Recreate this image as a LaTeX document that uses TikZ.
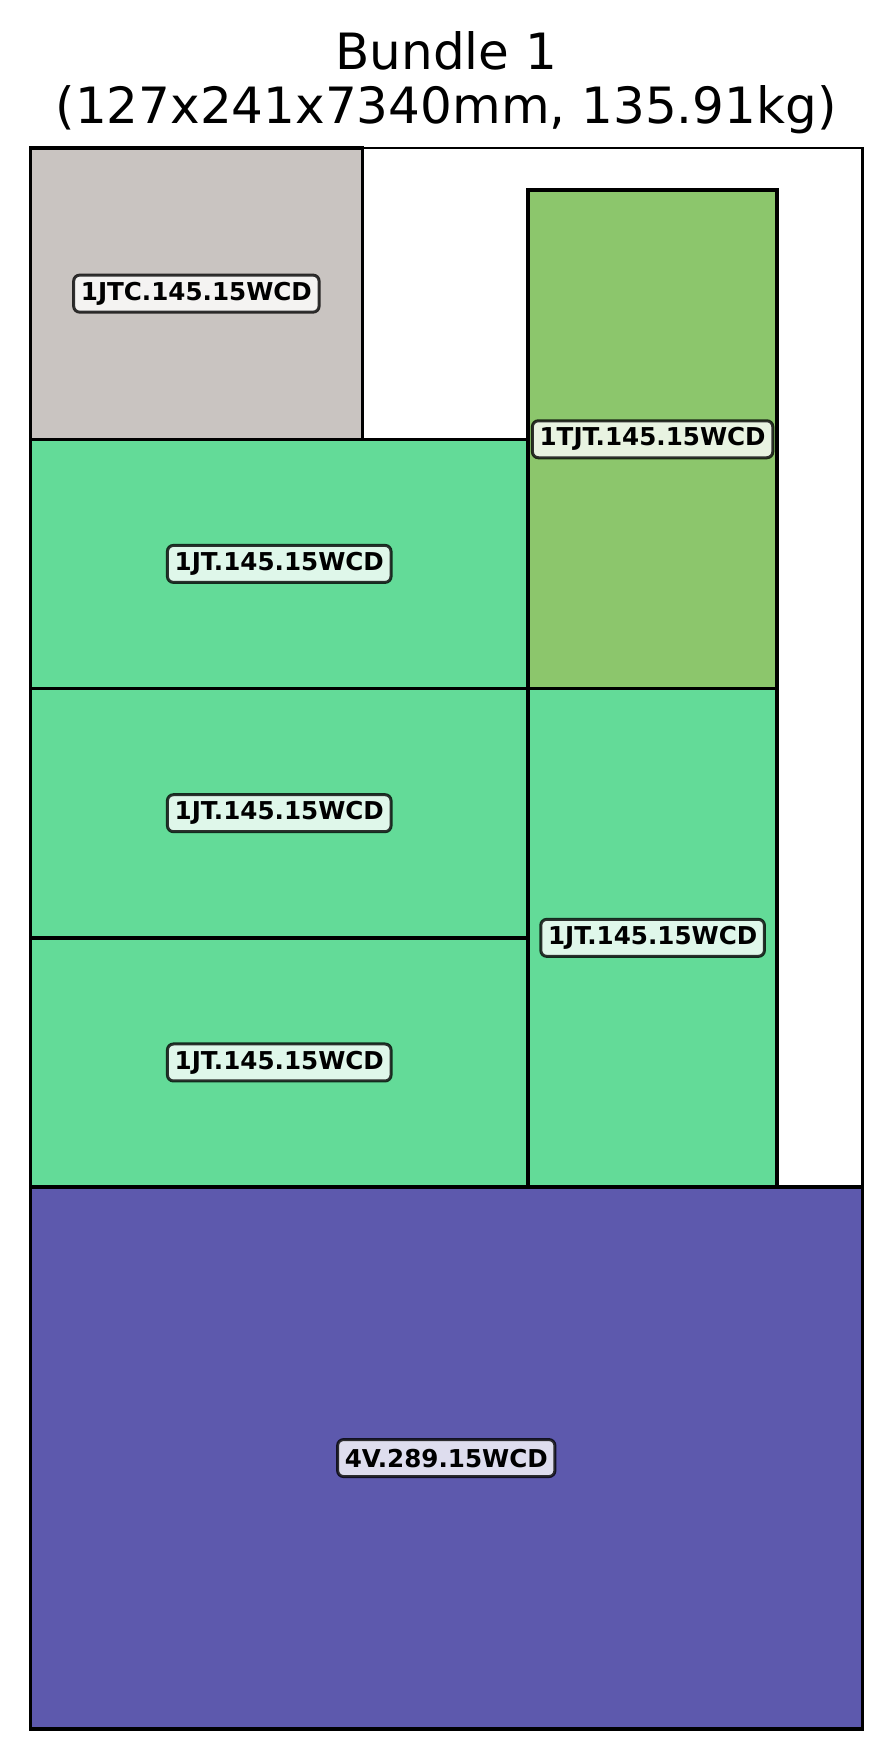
\documentclass[tikz,border=0pt]{standalone}
\usepackage{fontspec}
\setmainfont{DejaVu Sans}
\usepackage{xcolor}
\usepackage{tikz}
\usetikzlibrary{positioning}
\definecolor{BundleGrey}{HTML}{C9C4C1}
\definecolor{BundleMint}{HTML}{63DB98}
\definecolor{BundleOlive}{HTML}{8CC66C}
\definecolor{BundlePurple}{HTML}{5D59AD}

\begin{document}
\begin{tikzpicture}[x=3.275pt,y=3.28pt,
  piece/.style={draw=black,line width=1.7pt},
  tag/.style={draw=black,draw opacity=0.8,fill=white,fill opacity=0.8,text opacity=1,
    line width=1.5pt,rounded corners=3pt,inner xsep=3.6pt,inner ysep=0pt,minimum height=18.5pt,
    font=\bfseries\fontsize{12.3}{14}\selectfont}]
  \useasboundingbox (-4.63,-4.57) rectangle (131.43,263.56);
  \node[align=center,font=\fontsize{25}{27}\selectfont] (title) at (63.5,251.0){Bundle 1\\(127x241x7340mm, 135.91kg)};
  \draw[fill=white,line width=1.3pt] (0,0) rectangle (127,241);
  \draw[piece,fill=BundlePurple] (0,0) rectangle (127,82.6);
  \foreach \y in {82.6,120.6,158.6}
    \draw[piece,fill=BundleMint] (0,\y) rectangle (76,\y+38);
  \draw[piece,fill=BundleMint] (76,82.6) rectangle (114,158.6);
  \draw[piece,fill=BundleOlive] (76,158.6) rectangle (114,234.6);
  \draw[piece,fill=BundleGrey] (0,196.6) rectangle (50.7,241);
  \draw[line width=1.3pt] (0,0) rectangle (127,241);
  \node[tag] (jtc) at (25.35,218.8){1JTC.145.15WCD};
  \node[tag] (tjt) at (95,196.6){1TJT.145.15WCD};
  \node[tag] (jta) at (38,177.6){1JT.145.15WCD};
  \node[tag] (jtb) at (38,139.6){1JT.145.15WCD};
  \node[tag] (jtc2) at (38,101.6){1JT.145.15WCD};
  \node[tag] (jtr) at (95,120.6){1JT.145.15WCD};
  \node[tag] (v) at (63.5,41.3){4V.289.15WCD};
\end{tikzpicture}
\end{document}
